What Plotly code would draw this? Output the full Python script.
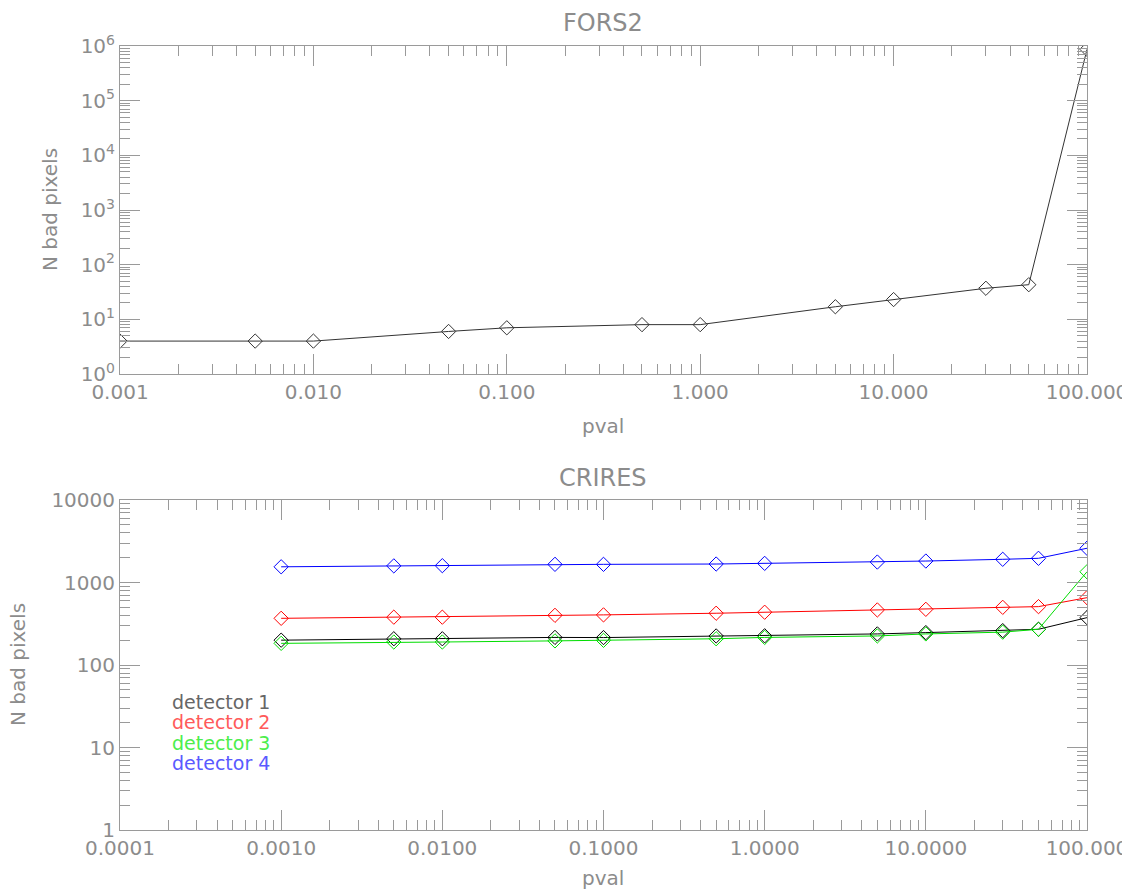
import plotly.graph_objects as go

# ---- data ----
pval = [0.001, 0.005, 0.01, 0.05, 0.1, 0.5, 1, 5, 10, 30, 50, 100]
fors2_nbad = [4, 4, 4, 6, 7, 8, 8, 17, 23, 37, 43, 870000]

crires_det1 = [200, 208, 208, 216, 215, 225, 226, 238, 247, 261, 271, 375]
crires_det2 = [368, 380, 380, 400, 405, 424, 436, 465, 473, 500, 510, 655]
crires_det3 = [183, 190, 190, 196, 199, 208, 216, 225, 238, 250, 271, 1350]
crires_det4 = [1550, 1590, 1600, 1660, 1660, 1675, 1705, 1770, 1820, 1910, 1965, 2600]

det_names = ["detector 1", "detector 2", "detector 3", "detector 4"]
det_line_colors = ["#000000", "#ff0000", "#00dd00", "#0000ff"]
det_text_colors = ["#666666", "#ff5a5a", "#4cee4c", "#5a5aff"]

top_xticks = [0.001, 0.01, 0.1, 1, 10, 100]
top_xtick_text = ["0.001", "0.010", "0.100", "1.000", "10.000", "100.000"]
top_yticks = [1, 10, 100, 1000, 10000, 100000, 1000000]
top_ytick_text = ["10<sup>%d</sup>" % i for i in range(7)]

bot_xticks = [0.0001, 0.001, 0.01, 0.1, 1, 10, 100]
bot_xtick_text = ["0.0001", "0.0010", "0.0100", "0.1000", "1.0000", "10.0000", "100.000"]
bot_yticks = [1, 10, 100, 1000, 10000]
bot_ytick_text = ["1", "10", "100", "1000", "10000"]

# ---- styling ----
OFF = 8                      # page body margin
W, H = 1130 - OFF, 895 - OFF
AX = "#9a9a9a"
TXT = "#8c8c8c"
FONT = "DejaVu Sans"

def px_x(p):
    return (p - OFF) / W

def px_y(p):
    return 1 - (p - OFF) / H

fig = go.Figure()

fig.add_trace(go.Scatter(
    x=pval, y=fors2_nbad, mode="lines+markers",
    line=dict(color="#333333", width=1),
    marker=dict(symbol="diamond-open", size=11, color="#333333", line=dict(width=1)),
    xaxis="x", yaxis="y", showlegend=False))

for vals, col, name in zip([crires_det1, crires_det2, crires_det3, crires_det4],
                           det_line_colors, det_names):
    fig.add_trace(go.Scatter(
        x=pval, y=vals, mode="lines+markers", name=name,
        line=dict(color=col, width=1),
        marker=dict(symbol="diamond-open", size=11, color=col, line=dict(width=1)),
        xaxis="x2", yaxis="y2", showlegend=False))

common = dict(
    type="log", showgrid=False, zeroline=False, automargin=False,
    showline=True, linecolor=AX, linewidth=1, mirror="ticks",
    ticks="inside", ticklen=20, tickcolor=AX, tickwidth=1,
    tickfont=dict(family=FONT, size=20, color=TXT),
    minor=dict(ticks="inside", ticklen=10, tickcolor=AX, dtick="D1", showgrid=False),
)

dom_x = [px_x(120), px_x(1087)]

fig.update_layout(
    template="none",
    width=W, height=H, autosize=False,
    paper_bgcolor="white", plot_bgcolor="white",
    margin=dict(l=0, r=0, t=0, b=0, pad=0),
    xaxis=dict(common, domain=dom_x, anchor="y", range=[-3, 2],
               tickvals=top_xticks, ticktext=top_xtick_text),
    yaxis=dict(common, domain=[px_y(374), px_y(46)], anchor="x", range=[0, 6],
               tickvals=top_yticks, ticktext=top_ytick_text),
    xaxis2=dict(common, domain=dom_x, anchor="y2", range=[-4, 2],
                tickvals=bot_xticks, ticktext=bot_xtick_text),
    yaxis2=dict(common, domain=[px_y(830), px_y(500)], anchor="x2", range=[0, 4],
                tickvals=bot_yticks, ticktext=bot_ytick_text),
)

ann = []
def text(x, y, s, size=20, color=TXT, angle=0, xanchor="center"):
    ann.append(dict(x=px_x(x), y=px_y(y), xref="paper", yref="paper", text=s,
                    showarrow=False, textangle=angle, xanchor=xanchor, yanchor="middle",
                    font=dict(family=FONT, size=size, color=color)))

text(603, 23, "FORS2", size=24)
text(603, 478, "CRIRES", size=24)
text(603, 426, "pval")
text(603, 878, "pval")
text(50, 210, "N bad pixels", angle=-90)
text(18, 665, "N bad pixels", angle=-90)
for i, (name, col) in enumerate(zip(det_names, det_text_colors)):
    text(170, 702 + 20.3 * i, name, size=19, color=col, xanchor="left")

fig.update_layout(annotations=ann)

fig.write_html("out.html")
